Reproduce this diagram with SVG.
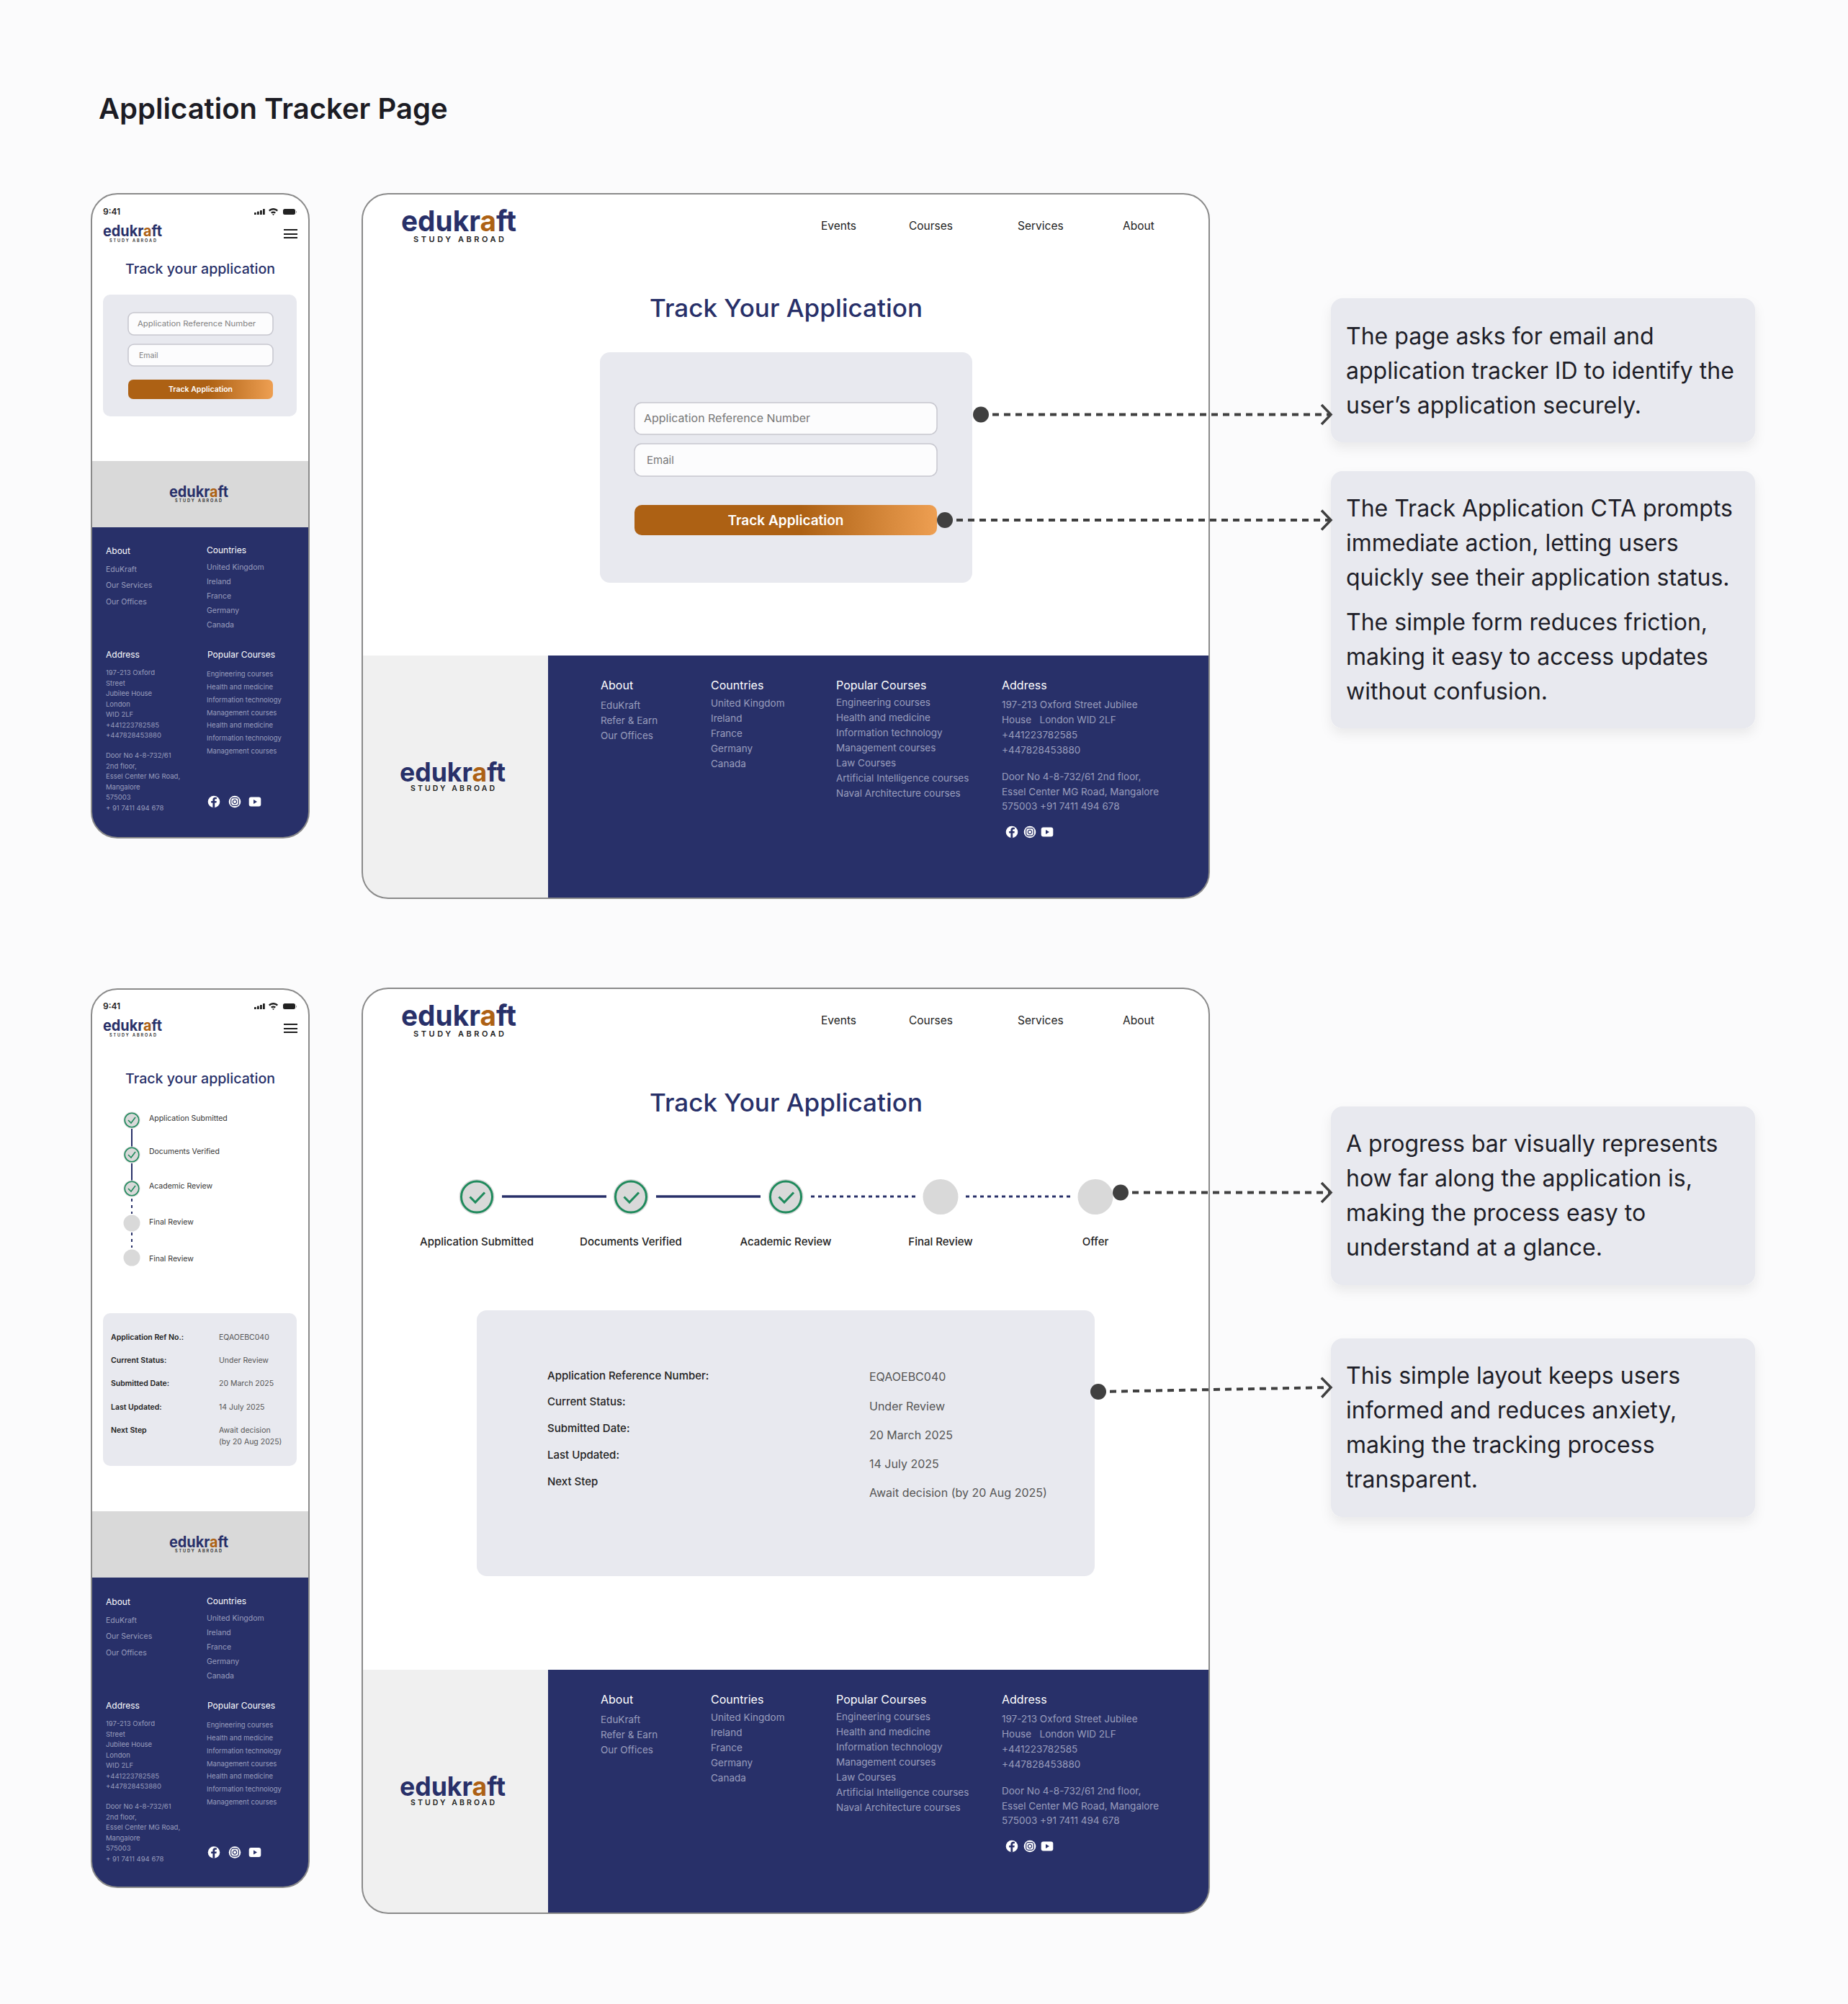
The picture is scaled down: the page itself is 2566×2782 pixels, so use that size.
<svg xmlns="http://www.w3.org/2000/svg" width="2566" height="2782" viewBox="0 0 2566 2782">
<style>
text{font-family:"Inter","Liberation Sans",sans-serif}
.title{font-size:40px;font-weight:600;fill:#1c1c24}
.frame{fill:none;stroke:#8a8a8a;stroke-width:2}
.card{fill:#e8e9ef}
.input{fill:#fcfcfd;stroke:#c6c6ce;stroke-width:1.5}
.navy{fill:#283069}
.panel{fill:#f0f0f0}
.band{fill:#d9d9d9}
.logo{font-weight:700;fill:#283069}
.logo .o{fill:#ad6114}
.tag{font-weight:600;fill:#222}
.ph{font-size:19px;font-weight:500;fill:#283069}
.dh{font-size:34px;font-weight:500;fill:#283069}
.plc{font-size:10.5px;fill:#808080}
.dplc{font-size:15px;fill:#777}
.btn{font-size:10.5px;font-weight:600;fill:#fff;text-anchor:middle}
.dbtn{font-size:19px;font-weight:600;fill:#fff;text-anchor:middle}
.nav{font-size:15.5px;font-weight:400;fill:#222}
.clock{font-size:12px;font-weight:600;fill:#222}
.fh{font-size:12px;font-weight:400;fill:#fff}
.fl{font-size:10.5px;fill:#9a9ebd}
.fs{font-size:9.5px;fill:#9a9ebd}
.dfh{font-size:16px;font-weight:400;fill:#fff}
.dfl{font-size:13.5px;fill:#9a9ebd}
.note{font-size:32px;fill:#1e1e28}
.sbox{fill:#e8e9ef;filter:url(#soft)}
.sl{font-size:10.5px;fill:#333}
.dsl{font-size:15px;font-weight:500;fill:#222;text-anchor:middle}
.kl{font-size:10.5px;font-weight:600;fill:#222}
.kv{font-size:10.5px;fill:#555}
.dkl{font-size:15px;font-weight:500;fill:#222}
.dkv{font-size:16px;fill:#555}
.done{stroke:#283069;fill:none}
.todo{stroke:#283069;fill:none}
.grey{fill:#d9d9d9}
.ring{fill:none;stroke:#1f8a5c}
.conn{fill:none;stroke:#404040;stroke-width:4;stroke-dasharray:9 7;marker-start:url(#dot);marker-end:url(#chev)}
</style>
<defs>
<linearGradient id="cta" x1="0" x2="1" y1="0" y2="0"><stop offset="0" stop-color="#ad6114"/><stop offset=".55" stop-color="#ad6114"/><stop offset="1" stop-color="#ee9f52"/></linearGradient>
<filter id="soft" x="-10%" y="-10%" width="120%" height="125%"><feDropShadow dx="0" dy="8" stdDeviation="8" flood-color="#000" flood-opacity=".07"/></filter>
<marker id="dot" markerUnits="userSpaceOnUse" viewBox="0 0 24 24" markerWidth="24" markerHeight="24" refX="12" refY="12"><circle cx="12" cy="12" r="11" fill="#404040"/></marker>
<marker id="chev" markerUnits="userSpaceOnUse" viewBox="0 0 18 32" markerWidth="18" markerHeight="32" refX="15" refY="16" orient="auto"><path d="M2 2.500L15 16L2 29.500" fill="none" stroke="#404040" stroke-width="3.500"/></marker>
<clipPath id="cp1"><rect x="127" y="269" width="302" height="894" rx="36"/></clipPath>
<clipPath id="cp2"><rect x="127" y="1373" width="302" height="1247" rx="36"/></clipPath>
<clipPath id="cd1"><rect x="503" y="269" width="1176" height="978" rx="36"/></clipPath>
<clipPath id="cd2"><rect x="503" y="1372" width="1176" height="1284" rx="36"/></clipPath>
<g id="bars"><rect x="0" y="5" width="2.800" height="3" rx=".6"/><rect x="4" y="3.500" width="2.800" height="4.500" rx=".6"/><rect x="8" y="2" width="2.800" height="6" rx=".6"/><rect x="12" y="0" width="2.800" height="8" rx=".6"/></g>
<path id="wifi" d="M0 2.800C3.800-.9 9.200-.9 13 2.800L11.500 4.500C8.500 1.800 4.500 1.800 1.500 4.500ZM3 5.800C5 3.900 8 3.900 10 5.800L8.500 7.400C7.300 6.400 5.700 6.400 4.500 7.400ZM6.500 10L5 8.600C6 7.900 7 7.900 8 8.600Z"/>
<g id="batt"><rect x="0" y="0" width="17" height="8" rx="2.500"/><rect x="18" y="3" width="1" height="2.500" fill="#999"/></g>
<g id="fb"><circle r="8.300" fill="#fff"/><path d="M1.200 8.200V1.500H3.400L3.800-1H1.200V-2.500C1.200-3.300 1.600-3.800 2.500-3.800H3.900V-6C3.200-6.100 2.600-6.200 1.900-6.200C-.3-6.200-1.600-4.900-1.600-2.800V-1H-3.900V1.500H-1.600V8.200Z" fill="#283069"/></g>
<g id="ig"><circle r="8.300" fill="#fff"/><rect x="-5.300" y="-5.300" width="10.600" height="10.600" rx="3" fill="none" stroke="#283069" stroke-width="1.200"/><circle r="2.600" fill="none" stroke="#283069" stroke-width="1.200"/></g>
<g id="yt"><rect x="-8.300" y="-6.500" width="16.600" height="13" rx="3" fill="#fff"/><path d="M-2-3L3 0L-2 3Z" fill="#283069"/></g>
</defs>
<rect width="2566" height="2782" fill="#fbfbfc"/>
<text class="title" x="137" y="165">Application Tracker Page</text>

<g id="phone-form" clip-path="url(#cp1)">
<rect x="127" y="269" width="302" height="894" fill="#fff"/>
<text class="clock" x="143" y="298">9:41</text>
<use href="#bars" x="353" y="290" fill="#222"/><use href="#wifi" x="373" y="289" fill="#222"/><use href="#batt" x="393" y="290" fill="#222"/>
<text class="logo" x="143" y="328" font-size="21" textLength="82" lengthAdjust="spacingAndGlyphs">eduk<tspan>r</tspan><tspan class="o">a</tspan>ft</text>
<text class="tag" x="152" y="336" font-size="5.500" textLength="65">STUDY ABROAD</text>
<path d="M394 319H413M394 325H413M394 330H413" stroke="#1c1c1c" stroke-width="2.200"/>
<text class="ph" x="174" y="380" textLength="208" lengthAdjust="spacingAndGlyphs">Track your application</text>
<rect class="card" x="143" y="409" width="269" height="169" rx="10"/>
<rect class="input" x="178" y="434" width="201" height="31" rx="8"/>
<text class="plc" x="191" y="453" textLength="164" lengthAdjust="spacingAndGlyphs">Application Reference Number</text>
<rect class="input" x="178" y="478" width="201" height="30" rx="8"/>
<text class="plc" x="193" y="497">Email</text>
<rect x="178" y="527" width="201" height="27" rx="7" fill="url(#cta)"/>
<text class="btn" x="278.500" y="544">Track Application</text>
<rect class="band" x="127" y="640" width="302" height="92"/>
<text class="logo" x="235" y="690" font-size="21" textLength="82" lengthAdjust="spacingAndGlyphs">eduk<tspan>r</tspan><tspan class="o">a</tspan>ft</text>
<text class="tag" x="243" y="697" font-size="5.500" textLength="65">STUDY ABROAD</text>
<rect class="navy" x="127" y="732" width="302" height="431"/>
<text class="fh" x="147" y="769">About</text>
<text class="fl" x="147" y="794">EduKraft</text>
<text class="fl" x="147" y="816">Our Services</text>
<text class="fl" x="147" y="839">Our Offices</text>
<text class="fh" x="287" y="768">Countries</text>
<text class="fl" x="287" y="791">United Kingdom</text>
<text class="fl" x="287" y="811">Ireland</text>
<text class="fl" x="287" y="831">France</text>
<text class="fl" x="287" y="851">Germany</text>
<text class="fl" x="287" y="871">Canada</text>
<text class="fh" x="147" y="913">Address</text>
<text class="fs" x="147" y="937">197-213 Oxford</text>
<text class="fs" x="147" y="952">Street</text>
<text class="fs" x="147" y="966">Jubilee House</text>
<text class="fs" x="147" y="981">London</text>
<text class="fs" x="147" y="995">WID 2LF</text>
<text class="fs" x="147" y="1010">+441223782585</text>
<text class="fs" x="147" y="1024">+447828453880</text>
<text class="fs" x="147" y="1052">Door No 4-8-732/61</text>
<text class="fs" x="147" y="1067">2nd floor,</text>
<text class="fs" x="147" y="1081">Essel Center MG Road,</text>
<text class="fs" x="147" y="1096">Mangalore</text>
<text class="fs" x="147" y="1110">575003</text>
<text class="fs" x="147" y="1125">+ 91 7411 494 678</text>
<text class="fh" x="288" y="913">Popular Courses</text>
<text class="fs" x="287" y="939">Engineering courses</text>
<text class="fs" x="287" y="957">Health and medicine</text>
<text class="fs" x="287" y="975">Information technology</text>
<text class="fs" x="287" y="993">Management courses</text>
<text class="fs" x="287" y="1010">Health and medicine</text>
<text class="fs" x="287" y="1028">Information technology</text>
<text class="fs" x="287" y="1046">Management courses</text>
<use href="#fb" x="297" y="1113"/><use href="#ig" x="326" y="1113"/><use href="#yt" x="354" y="1113"/>
</g>
<rect class="frame" x="127" y="269" width="302" height="894" rx="36"/>

<g id="desktop-form" clip-path="url(#cd1)">
<rect x="503" y="269" width="1176" height="978" fill="#fff"/>
<text class="logo" x="557" y="321" font-size="40" textLength="160" lengthAdjust="spacingAndGlyphs">eduk<tspan>r</tspan><tspan class="o">a</tspan>ft</text>
<text class="tag" x="574" y="336" font-size="11" textLength="126">STUDY ABROAD</text>
<text class="nav" x="1140" y="319">Events</text><text class="nav" x="1262" y="319">Courses</text><text class="nav" x="1413" y="319">Services</text><text class="nav" x="1559" y="319">About</text>
<text class="dh" x="902" y="440" textLength="379" lengthAdjust="spacingAndGlyphs">Track Your Application</text>
<rect class="card" x="833" y="489" width="517" height="320" rx="14"/>
<rect class="input" x="881" y="559" width="420" height="44" rx="10"/>
<text class="dplc" x="894" y="586" textLength="231" lengthAdjust="spacingAndGlyphs">Application Reference Number</text>
<rect class="input" x="881" y="616" width="420" height="45" rx="10"/>
<text class="dplc" x="898" y="644">Email</text>
<rect x="881" y="701" width="420" height="42" rx="10" fill="url(#cta)"/>
<text class="dbtn" x="1091" y="729">Track Application</text>
<rect class="panel" x="503" y="910" width="258" height="337"/>
<text class="logo" x="555" y="1085" font-size="37" textLength="147" lengthAdjust="spacingAndGlyphs">eduk<tspan>r</tspan><tspan class="o">a</tspan>ft</text>
<text class="tag" x="570" y="1098" font-size="10.500" textLength="117">STUDY ABROAD</text>
<rect class="navy" x="761" y="910" width="918" height="337"/>
<text class="dfh" x="834" y="957">About</text>
<text class="dfl" x="834" y="984">EduKraft</text>
<text class="dfl" x="834" y="1005">Refer &amp; Earn</text>
<text class="dfl" x="834" y="1026">Our Offices</text>
<text class="dfh" x="987" y="957">Countries</text>
<text class="dfl" x="987" y="981">United Kingdom</text>
<text class="dfl" x="987" y="1002">Ireland</text>
<text class="dfl" x="987" y="1023">France</text>
<text class="dfl" x="987" y="1044">Germany</text>
<text class="dfl" x="987" y="1065">Canada</text>
<text class="dfh" x="1161" y="957">Popular Courses</text>
<text class="dfl" x="1161" y="980">Engineering courses</text>
<text class="dfl" x="1161" y="1001">Health and medicine</text>
<text class="dfl" x="1161" y="1022">Information technology</text>
<text class="dfl" x="1161" y="1043">Management courses</text>
<text class="dfl" x="1161" y="1064">Law Courses</text>
<text class="dfl" x="1161" y="1085">Artificial Intelligence courses</text>
<text class="dfl" x="1161" y="1106">Naval Architecture courses</text>
<text class="dfh" x="1391" y="957">Address</text>
<text class="dfl" x="1391" y="983">197-213 Oxford Street Jubilee</text>
<text class="dfl" x="1391" y="1004" xml:space="preserve">House   London WID 2LF</text>
<text class="dfl" x="1391" y="1025">+441223782585</text>
<text class="dfl" x="1391" y="1046">+447828453880</text>
<text class="dfl" x="1391" y="1083">Door No 4-8-732/61 2nd floor,</text>
<text class="dfl" x="1391" y="1104">Essel Center MG Road, Mangalore</text>
<text class="dfl" x="1391" y="1124">575003 +91 7411 494 678</text>
<use href="#fb" x="1405" y="1155"/><use href="#ig" x="1430" y="1155"/><use href="#yt" x="1454" y="1155"/>
</g>
<rect class="frame" x="503" y="269" width="1176" height="978" rx="36"/>

<g id="note-1"><rect class="sbox" x="1848" y="414" width="589" height="200" rx="16"/>
<text class="note" x="1869" y="478">The page asks for email and</text>
<text class="note" x="1869" y="526">application tracker ID to identify the</text>
<text class="note" x="1869" y="574">user’s application securely.</text></g>
<g id="note-2"><rect class="sbox" x="1848" y="654" width="589" height="357" rx="16"/>
<text class="note" x="1869" y="717">The Track Application CTA prompts</text>
<text class="note" x="1869" y="765">immediate action, letting users</text>
<text class="note" x="1869" y="813">quickly see their application status.</text>
<text class="note" x="1869" y="875">The simple form reduces friction,</text>
<text class="note" x="1869" y="923">making it easy to access updates</text>
<text class="note" x="1869" y="971">without confusion.</text></g>

<g id="phone-status" clip-path="url(#cp2)">
<rect x="127" y="1373" width="302" height="1247" fill="#fff"/>
<text class="clock" x="143" y="1401">9:41</text>
<use href="#bars" x="353" y="1393" fill="#222"/><use href="#wifi" x="373" y="1392" fill="#222"/><use href="#batt" x="393" y="1393" fill="#222"/>
<text class="logo" x="143" y="1431" font-size="21" textLength="82" lengthAdjust="spacingAndGlyphs">eduk<tspan>r</tspan><tspan class="o">a</tspan>ft</text>
<text class="tag" x="152" y="1439" font-size="5.500" textLength="65">STUDY ABROAD</text>
<path d="M394 1422H413M394 1428H413M394 1433H413" stroke="#1c1c1c" stroke-width="2"/>
<text class="ph" x="174" y="1504" textLength="208" lengthAdjust="spacingAndGlyphs">Track your application</text>
<path class="done" stroke-width="2" d="M183 1567V1592M183 1615V1639"/>
<path class="todo" stroke-width="2" stroke-dasharray="4 5" d="M183 1664V1685M183 1711V1732"/>
<g id="ps1"><circle class="grey" cx="183" cy="1555" r="11.500"/><circle class="ring" cx="183" cy="1555" r="9.800" stroke-width="1.600"/><path class="ring" stroke-width="1.600" d="M178 1555L182 1559L188 1551"/></g>
<g id="ps2"><circle class="grey" cx="183" cy="1603" r="11.500"/><circle class="ring" cx="183" cy="1603" r="9.800" stroke-width="1.600"/><path class="ring" stroke-width="1.600" d="M178 1603L182 1607L188 1599"/></g>
<g id="ps3"><circle class="grey" cx="183" cy="1650" r="11.500"/><circle class="ring" cx="183" cy="1650" r="9.800" stroke-width="1.600"/><path class="ring" stroke-width="1.600" d="M178 1650L182 1654L188 1646"/></g>
<circle class="grey" cx="183" cy="1698" r="11.500"/><circle class="grey" cx="183" cy="1746" r="11.500"/>
<text class="sl" x="207" y="1556">Application Submitted</text>
<text class="sl" x="207" y="1602">Documents Verified</text>
<text class="sl" x="207" y="1650">Academic Review</text>
<text class="sl" x="207" y="1700">Final Review</text>
<text class="sl" x="207" y="1751">Final Review</text>
<rect class="card" x="143" y="1823" width="269" height="212" rx="10"/>
<text class="kl" x="154" y="1860">Application Ref No.:</text><text class="kv" x="304" y="1860">EQAOEBC040</text>
<text class="kl" x="154" y="1892">Current Status:</text><text class="kv" x="304" y="1892">Under Review</text>
<text class="kl" x="154" y="1924">Submitted Date:</text><text class="kv" x="304" y="1924">20 March 2025</text>
<text class="kl" x="154" y="1957">Last Updated:</text><text class="kv" x="304" y="1957">14 July 2025</text>
<text class="kl" x="154" y="1989">Next Step</text><text class="kv" x="304" y="1989">Await decision</text><text class="kv" x="304" y="2005">(by 20 Aug 2025)</text>
<rect class="band" x="127" y="2098" width="302" height="92"/>
<text class="logo" x="235" y="2148" font-size="21" textLength="82" lengthAdjust="spacingAndGlyphs">eduk<tspan>r</tspan><tspan class="o">a</tspan>ft</text>
<text class="tag" x="243" y="2155" font-size="5.500" textLength="65">STUDY ABROAD</text>
<rect class="navy" x="127" y="2190" width="302" height="430"/>
<g transform="translate(0 1458.500)">
<text class="fh" x="147" y="769">About</text>
<text class="fl" x="147" y="794">EduKraft</text>
<text class="fl" x="147" y="816">Our Services</text>
<text class="fl" x="147" y="839">Our Offices</text>
<text class="fh" x="287" y="768">Countries</text>
<text class="fl" x="287" y="791">United Kingdom</text>
<text class="fl" x="287" y="811">Ireland</text>
<text class="fl" x="287" y="831">France</text>
<text class="fl" x="287" y="851">Germany</text>
<text class="fl" x="287" y="871">Canada</text>
<text class="fh" x="147" y="913">Address</text>
<text class="fs" x="147" y="937">197-213 Oxford</text>
<text class="fs" x="147" y="952">Street</text>
<text class="fs" x="147" y="966">Jubilee House</text>
<text class="fs" x="147" y="981">London</text>
<text class="fs" x="147" y="995">WID 2LF</text>
<text class="fs" x="147" y="1010">+441223782585</text>
<text class="fs" x="147" y="1024">+447828453880</text>
<text class="fs" x="147" y="1052">Door No 4-8-732/61</text>
<text class="fs" x="147" y="1067">2nd floor,</text>
<text class="fs" x="147" y="1081">Essel Center MG Road,</text>
<text class="fs" x="147" y="1096">Mangalore</text>
<text class="fs" x="147" y="1110">575003</text>
<text class="fs" x="147" y="1125">+ 91 7411 494 678</text>
<text class="fh" x="288" y="913">Popular Courses</text>
<text class="fs" x="287" y="939">Engineering courses</text>
<text class="fs" x="287" y="957">Health and medicine</text>
<text class="fs" x="287" y="975">Information technology</text>
<text class="fs" x="287" y="993">Management courses</text>
<text class="fs" x="287" y="1010">Health and medicine</text>
<text class="fs" x="287" y="1028">Information technology</text>
<text class="fs" x="287" y="1046">Management courses</text>
<use href="#fb" x="297" y="1113"/><use href="#ig" x="326" y="1113"/><use href="#yt" x="354" y="1113"/>
</g>
</g>
<rect class="frame" x="127" y="1373" width="302" height="1247" rx="36"/>

<g id="desktop-status" clip-path="url(#cd2)">
<rect x="503" y="1372" width="1176" height="1284" fill="#fff"/>
<text class="logo" x="557" y="1424" font-size="40" textLength="160" lengthAdjust="spacingAndGlyphs">eduk<tspan>r</tspan><tspan class="o">a</tspan>ft</text>
<text class="tag" x="574" y="1439" font-size="11" textLength="126">STUDY ABROAD</text>
<text class="nav" x="1140" y="1422">Events</text><text class="nav" x="1262" y="1422">Courses</text><text class="nav" x="1413" y="1422">Services</text><text class="nav" x="1559" y="1422">About</text>
<text class="dh" x="902" y="1543" textLength="379" lengthAdjust="spacingAndGlyphs">Track Your Application</text>
<path class="done" stroke-width="3.500" d="M697 1661H842M911 1661H1056"/>
<path class="todo" stroke-width="3" stroke-dasharray="5 5" d="M1126 1661H1271M1341 1661H1486"/>
<g id="ds1"><circle class="grey" cx="662" cy="1661.500" r="24.500"/><circle class="ring" cx="662" cy="1661.500" r="21.500" stroke-width="3"/><path class="ring" stroke-width="3" d="M652.500 1661.500L660 1669L673 1655.500"/></g>
<g id="ds2"><circle class="grey" cx="876" cy="1661.500" r="24.500"/><circle class="ring" cx="876" cy="1661.500" r="21.500" stroke-width="3"/><path class="ring" stroke-width="3" d="M866.500 1661.500L874 1669L887 1655.500"/></g>
<g id="ds3"><circle class="grey" cx="1091" cy="1661.500" r="24.500"/><circle class="ring" cx="1091" cy="1661.500" r="21.500" stroke-width="3"/><path class="ring" stroke-width="3" d="M1081.500 1661.500L1089 1669L1102 1655.500"/></g>
<circle class="grey" cx="1306" cy="1661.500" r="24.500"/><circle class="grey" cx="1521" cy="1661.500" r="24.500"/>
<text class="dsl" x="662" y="1729">Application Submitted</text>
<text class="dsl" x="876" y="1729">Documents Verified</text>
<text class="dsl" x="1091" y="1729">Academic Review</text>
<text class="dsl" x="1306" y="1729">Final Review</text>
<text class="dsl" x="1521" y="1729">Offer</text>
<rect class="card" x="662" y="1819" width="858" height="369" rx="14"/>
<text class="dkl" x="760" y="1915">Application Reference Number:</text>
<text class="dkl" x="760" y="1951">Current Status:</text>
<text class="dkl" x="760" y="1988">Submitted Date:</text>
<text class="dkl" x="760" y="2025">Last Updated:</text>
<text class="dkl" x="760" y="2062">Next Step</text>
<text class="dkv" x="1207" y="1917">EQAOEBC040</text>
<text class="dkv" x="1207" y="1958">Under Review</text>
<text class="dkv" x="1207" y="1998">20 March 2025</text>
<text class="dkv" x="1207" y="2038">14 July 2025</text>
<text class="dkv" x="1207" y="2078">Await decision (by 20 Aug 2025)</text>
<rect class="panel" x="503" y="2318" width="258" height="338"/>
<text class="logo" x="555" y="2493" font-size="37" textLength="147" lengthAdjust="spacingAndGlyphs">eduk<tspan>r</tspan><tspan class="o">a</tspan>ft</text>
<text class="tag" x="570" y="2506" font-size="10.500" textLength="117">STUDY ABROAD</text>
<rect class="navy" x="761" y="2318" width="918" height="338"/>
<g transform="translate(0 1408)">
<text class="dfh" x="834" y="957">About</text>
<text class="dfl" x="834" y="984">EduKraft</text>
<text class="dfl" x="834" y="1005">Refer &amp; Earn</text>
<text class="dfl" x="834" y="1026">Our Offices</text>
<text class="dfh" x="987" y="957">Countries</text>
<text class="dfl" x="987" y="981">United Kingdom</text>
<text class="dfl" x="987" y="1002">Ireland</text>
<text class="dfl" x="987" y="1023">France</text>
<text class="dfl" x="987" y="1044">Germany</text>
<text class="dfl" x="987" y="1065">Canada</text>
<text class="dfh" x="1161" y="957">Popular Courses</text>
<text class="dfl" x="1161" y="980">Engineering courses</text>
<text class="dfl" x="1161" y="1001">Health and medicine</text>
<text class="dfl" x="1161" y="1022">Information technology</text>
<text class="dfl" x="1161" y="1043">Management courses</text>
<text class="dfl" x="1161" y="1064">Law Courses</text>
<text class="dfl" x="1161" y="1085">Artificial Intelligence courses</text>
<text class="dfl" x="1161" y="1106">Naval Architecture courses</text>
<text class="dfh" x="1391" y="957">Address</text>
<text class="dfl" x="1391" y="983">197-213 Oxford Street Jubilee</text>
<text class="dfl" x="1391" y="1004" xml:space="preserve">House   London WID 2LF</text>
<text class="dfl" x="1391" y="1025">+441223782585</text>
<text class="dfl" x="1391" y="1046">+447828453880</text>
<text class="dfl" x="1391" y="1083">Door No 4-8-732/61 2nd floor,</text>
<text class="dfl" x="1391" y="1104">Essel Center MG Road, Mangalore</text>
<text class="dfl" x="1391" y="1124">575003 +91 7411 494 678</text>
<use href="#fb" x="1405" y="1155"/><use href="#ig" x="1430" y="1155"/><use href="#yt" x="1454" y="1155"/>
</g>
</g>
<rect class="frame" x="503" y="1372" width="1176" height="1284" rx="36"/>

<g id="note-3"><rect class="sbox" x="1848" y="1536" width="589" height="248" rx="16"/>
<text class="note" x="1869" y="1599">A progress bar visually represents</text>
<text class="note" x="1869" y="1647">how far along the application is,</text>
<text class="note" x="1869" y="1695">making the process easy to</text>
<text class="note" x="1869" y="1743">understand at a glance.</text></g>
<g id="note-4"><rect class="sbox" x="1848" y="1858" width="589" height="248" rx="16"/>
<text class="note" x="1869" y="1921">This simple layout keeps users</text>
<text class="note" x="1869" y="1969">informed and reduces anxiety,</text>
<text class="note" x="1869" y="2017">making the tracking process</text>
<text class="note" x="1869" y="2065">transparent.</text></g>

<g id="connectors">
<path class="conn" d="M1362 575.500H1848"/>
<path class="conn" d="M1312 722H1848"/>
<path class="conn" d="M1556 1655.500H1848"/>
<path class="conn" d="M1525 1932L1848 1926"/>
</g>
</svg>
